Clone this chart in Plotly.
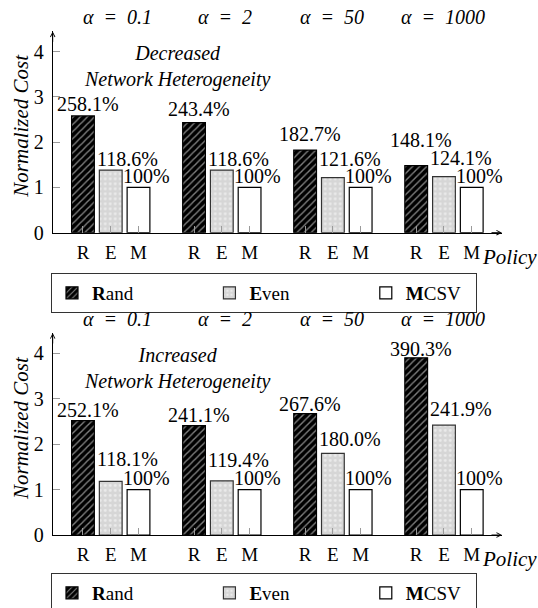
import plotly.graph_objects as go

# ---------------- data ----------------
alpha_values = ["0.1", "2", "50", "1000"]
policy_ticks = ["R", "E", "M"]
series_names = ["<b>R</b>and", "<b>E</b>ven", "<b>M</b>CSV"]

# bar heights as drawn in the picture
dec_rand = [2.581, 2.434, 1.827, 1.481]
dec_even = [1.385, 1.385, 1.216, 1.241]
dec_mcsv = [1.0, 1.0, 1.0, 1.0]

inc_rand = [2.521, 2.411, 2.676, 3.903]
inc_even = [1.181, 1.194, 1.800, 2.419]
inc_mcsv = [1.0, 1.0, 1.0, 1.0]

# value labels as printed above the bars
dec_rand_lbl = ["258.1%", "243.4%", "182.7%", "148.1%"]
dec_even_lbl = ["118.6%", "118.6%", "121.6%", "124.1%"]
dec_mcsv_lbl = ["100%", "100%", "100%", "100%"]

inc_rand_lbl = ["252.1%", "241.1%", "267.6%", "390.3%"]
inc_even_lbl = ["118.1%", "119.4%", "180.0%", "241.9%"]
inc_mcsv_lbl = ["100%", "100%", "100%", "100%"]

panel_titles = ["Decreased<br>Network Heterogeneity", "Increased<br>Network Heterogeneity"]

# ---------------- styling ----------------
FONT = "Liberation Serif"
FS = 19
W, H = 538, 608

groups = [0, 1, 2, 3]
offsets = [-0.25, 0.0, 0.25]
bar_width = 0.205
label_xshift = [5, 17, 8]
# pixel gaps between bar top and its label (label placement, per panel / series / group)
label_gap = [
    [[3, 5, 7, 17], [2, 2, 10, 10], [2, 2, 2, 2]],
    [[2, 2, 1, 0], [13, 12, 5, 7], [3, 3, 3, 3]],
]
alpha_xshift = [7, 3, -1, -1]
legend_pad = [15, 15, 2]   # non-breaking spaces after each legend name (entry spacing)

markers = [
    dict(color="black",
         pattern=dict(shape="/", fgcolor="white", bgcolor="black", size=5, solidity=0.28),
         line=dict(color="black", width=1.2)),
    dict(color="#d6d6d6",
         pattern=dict(shape=".", fgcolor="white", bgcolor="#d6d6d6", size=5, solidity=0.25),
         line=dict(color="#333", width=1.2)),
    dict(color="white", line=dict(color="black", width=1.2)),
]


def py(px):
    return (H - px) / H


panels = [
    dict(data=[dec_rand, dec_even, dec_mcsv],
         labels=[dec_rand_lbl, dec_even_lbl, dec_mcsv_lbl],
         xa="x", ya="y", lg="legend", zero=232.7, top=31.4),
    dict(data=[inc_rand, inc_even, inc_mcsv],
         labels=[inc_rand_lbl, inc_even_lbl, inc_mcsv_lbl],
         xa="x2", ya="y2", lg="legend2", zero=535.0, top=333.0),
]

fig = go.Figure()
annotations = []

for p, pan in enumerate(panels):
    for s, vals in enumerate(pan["data"]):
        xs = [g + offsets[s] for g in groups]
        fig.add_trace(go.Bar(
            x=xs, y=vals, width=bar_width,
            name=series_names[s] + "\u00a0" * legend_pad[s],
            marker=markers[s], xaxis=pan["xa"], yaxis=pan["ya"],
            legend=pan["lg"], showlegend=True, hoverinfo="skip",
        ))
        for x, v, txt, gap in zip(xs, vals, pan["labels"][s], label_gap[p][s]):
            annotations.append(dict(
                x=x, y=v, xref=pan["xa"], yref=pan["ya"], text=txt,
                showarrow=False, yanchor="bottom", xanchor="center",
                xshift=label_xshift[s], yshift=gap - 4,
                font=dict(family=FONT, size=FS + 1, color="black")))

    # alpha labels
    for g, val, dx in zip(groups, alpha_values, alpha_xshift):
        annotations.append(dict(
            x=g, xref=pan["xa"], y=py(pan["top"] - 14), yref="paper",
            xanchor="center", yanchor="middle", xshift=dx,
            text=f"<i>α\u2002=\u2002{val}</i>", showarrow=False,
            font=dict(family=FONT, size=FS + 1, color="black")))

    # panel title
    annotations.append(dict(
        x=177 / W, xref="paper", y=py(pan["zero"] - 166), yref="paper",
        xanchor="center", yanchor="middle",
        text=f"<i>{panel_titles[p]}</i>", showarrow=False,
        font=dict(family=FONT, size=FS + 1, color="black")))

    # y-axis title
    annotations.append(dict(
        x=21 / W, xref="paper", y=py(pan["zero"] - 107), yref="paper",
        xanchor="center", yanchor="middle",
        text="<i>Normalized Cost</i>", textangle=-90, showarrow=False,
        font=dict(family=FONT, size=FS + 2, color="black")))

    # Policy label
    annotations.append(dict(
        x=1, xref=pan["xa"] + " domain", y=0, yref=pan["ya"] + " domain",
        text="<i>Policy</i>", showarrow=False, xanchor="center", yanchor="middle",
        xshift=7, yshift=-24, font=dict(family=FONT, size=FS + 2, color="black")))

    # axis arrows
    annotations.append(dict(
        x=1, xref=pan["xa"] + " domain", y=0, yref=pan["ya"] + " domain",
        ax=-12, ay=0, text="", showarrow=True, arrowhead=5, arrowsize=0.9,
        arrowwidth=1, arrowcolor="black"))
    annotations.append(dict(
        x=0, xref=pan["xa"] + " domain", y=1, yref=pan["ya"] + " domain",
        ax=0, ay=12, text="", showarrow=True, arrowhead=5, arrowsize=0.9,
        arrowwidth=1, arrowcolor="black"))

tickvals = [g + o for g in groups for o in offsets]
ticktext = [t for g in groups for t in policy_ticks]

xaxis_common = dict(
    domain=[52.7 / W, 502 / W], range=[-0.5225, 3.5225], automargin=False,
    tickvals=tickvals, ticktext=ticktext, ticks="inside", ticklen=7,
    tickcolor="#9a9a9a", tickwidth=1, showline=True, linecolor="black",
    linewidth=1, showgrid=False, zeroline=False, ticklabelstandoff=2,
    tickfont=dict(family=FONT, size=FS, color="black"), fixedrange=True)
yaxis_common = dict(
    range=[0, 4.45], tickvals=[0, 1, 2, 3, 4], ticks="inside", ticklen=7,
    automargin=False,
    tickcolor="#9a9a9a", tickwidth=1, showline=True, linecolor="black",
    linewidth=1, showgrid=False, zeroline=False, ticklabelstandoff=4,
    tickfont=dict(family=FONT, size=FS + 1, color="black"), fixedrange=True)

legend_common = dict(
    orientation="h", xanchor="left", yanchor="top", x=51 / W,
    bordercolor="#333", borderwidth=1, bgcolor="white",
    font=dict(family=FONT, size=FS, color="black"),
    itemclick=False, itemdoubleclick=False)

fig.update_layout(
    width=W, height=H, margin=dict(l=0, r=0, t=0, b=0, autoexpand=False),
    paper_bgcolor="white", plot_bgcolor="white", barmode="overlay",
    xaxis=dict(anchor="y", **xaxis_common),
    yaxis=dict(anchor="x", domain=[py(232.7), py(31.4)], **yaxis_common),
    xaxis2=dict(anchor="y2", **xaxis_common),
    yaxis2=dict(anchor="x2", domain=[py(535.0), py(333.0)], **yaxis_common),
    legend=dict(y=py(273), **legend_common),
    legend2=dict(y=py(573), **legend_common),
    annotations=annotations,
    font=dict(family=FONT, size=FS, color="black"),
)

fig.write_html(
    "out.html",
    config={"displayModeBar": False},
    post_script="document.body.style.margin='0';document.body.style.overflow='hidden';",
)
